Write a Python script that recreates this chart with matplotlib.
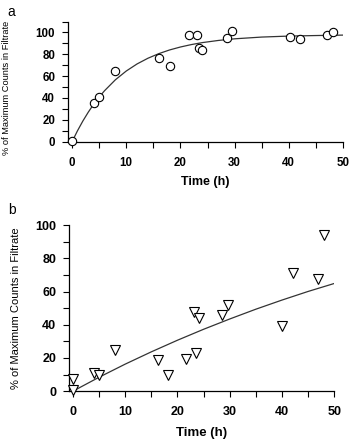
import numpy as np
import matplotlib
matplotlib.use("Agg")
import matplotlib.pyplot as plt
from matplotlib.ticker import MultipleLocator

plt.rcParams.update({"font.family": ["Liberation Sans", "DejaVu Sans"]})

# ----- panel a: circles -----
time_a = [0, 4, 5, 8, 16, 18, 21.6, 23, 23.4, 24, 28.6, 29.6, 40.2, 42.1, 47.1, 48.1]
pct_a = [1, 35, 40.5, 65, 76.5, 69, 97.5, 98, 86, 84, 94.5, 101.5, 96.3, 94.2, 98, 100.3]
fit_t_a = [0, 1, 2, 3, 4, 5, 6, 8, 10, 12, 14, 16, 18, 20, 22, 24, 27, 30, 35, 40, 45, 50]
fit_a = [0, 10.0, 19.0, 27.1, 34.4, 40.9, 46.7, 56.7, 64.7, 71.2, 76.4, 80.6, 84.0, 86.7,
         88.9, 90.7, 92.7, 94.2, 95.8, 96.7, 97.2, 97.6]

# ----- panel b: triangles -----
time_b = [0, 0, 4, 5, 8, 16.2, 18.1, 21.6, 23.1, 23.6, 24.2, 28.6, 29.6, 40.1, 42.1, 47, 48]
pct_b = [7.2, 0.6, 10.8, 9.6, 25, 18.7, 10, 19.3, 47.8, 23, 44, 45.8, 51.8, 39.2, 71.5, 67.7, 94.4]
fit_t_b = [0, 5, 10, 15, 20, 25, 30, 35, 40, 45, 50]
fit_b = [0, 8.4, 16.3, 23.7, 30.7, 37.3, 43.5, 49.4, 54.9, 60.1, 64.9]

YLAB = "% of Maximum Counts in Filtrate"

fig = plt.figure(figsize=(3.51, 4.40), dpi=100)
ax1 = fig.add_axes([0.193, 0.678, 0.784, 0.273])
ax2 = fig.add_axes([0.196, 0.111, 0.756, 0.377])

def style(ax, ymax, fs):
    for s in ("top", "right"):
        ax.spines[s].set_visible(False)
    for s in ("left", "bottom"):
        ax.spines[s].set_linewidth(0.9)
    ax.set_xlim(-0.8, 50)
    ax.set_ylim(0, ymax)
    ax.xaxis.set_major_locator(MultipleLocator(10))
    ax.xaxis.set_minor_locator(MultipleLocator(5))
    ax.yaxis.set_major_locator(MultipleLocator(20))
    ax.yaxis.set_minor_locator(MultipleLocator(10))
    ax.tick_params(which="both", direction="out", length=4, width=0.8, labelsize=fs, pad=5)
    ax.tick_params(axis="x", pad=7)
    for t in ax.get_xticklabels() + ax.get_yticklabels():
        t.set_fontweight("bold")

# panel a
ax1.plot(fit_t_a, fit_a, color="#333333", lw=0.9, zorder=2)
ax1.plot(time_a, pct_a, "o", ms=6, mfc="white", mec="black", mew=0.8, clip_on=False, zorder=3)
style(ax1, 110, 8.3)
ax1.set_yticks([0, 20, 40, 60, 80, 100])
ax1.set_yticks(np.arange(10, 111, 20), minor=True)
ax1.set_xlabel("Time (h)", fontsize=9, fontweight="bold", labelpad=5)
ax1.set_ylabel(YLAB, fontsize=6.7)
ax1.yaxis.set_label_coords(-0.205, 0.45)

# panel b
ax2.plot(fit_t_b, fit_b, color="#333333", lw=0.9, zorder=2)
ax2.plot(time_b, pct_b, "v", ms=7.5, mfc="white", mec="black", mew=0.8, clip_on=False, zorder=3)
style(ax2, 100, 9)
ax2.set_xlabel("Time (h)", fontsize=9.5, fontweight="bold", labelpad=6)
ax2.set_ylabel(YLAB, fontsize=8, labelpad=10)

fig.text(0.022, 0.988, "a", fontsize=10, va="top", ha="left")
fig.text(0.022, 0.538, "b", fontsize=10, va="top", ha="left")

fig.savefig("out.png", dpi=100)
